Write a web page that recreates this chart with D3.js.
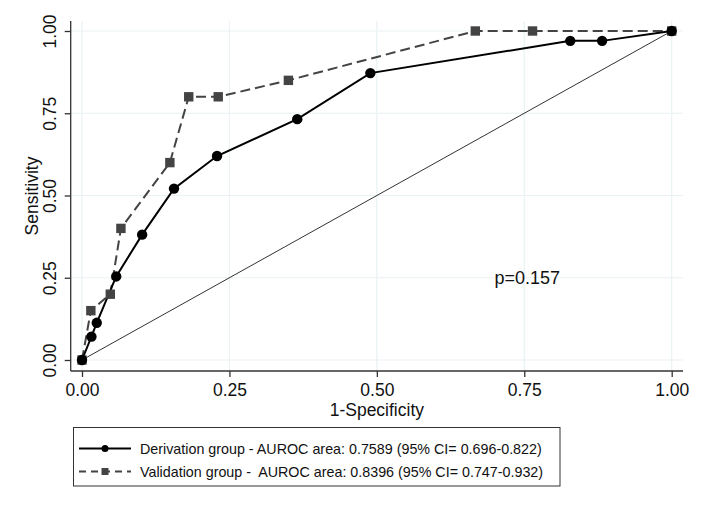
<!DOCTYPE html>
<html><head><meta charset="utf-8">
<script src="https://cdn.jsdelivr.net/npm/d3@7"></script>
<style>body{margin:0;background:#fff}svg{display:block}text{font-family:"Liberation Sans",Arial,sans-serif;fill:#111}</style>
</head><body><svg id="c" width="704" height="513"></svg>
<script>
const derivX = [0, 0.016, 0.025, 0.058, 0.102, 0.156, 0.229, 0.365, 0.489, 0.828, 0.882, 1];
const derivY = [0, 0.071, 0.113, 0.254, 0.381, 0.521, 0.620, 0.732, 0.872, 0.970, 0.970, 1];
const validX = [0, 0.015, 0.048, 0.066, 0.149, 0.181, 0.231, 0.350, 0.667, 0.764, 1];
const validY = [0, 0.15, 0.20, 0.40, 0.60, 0.80, 0.80, 0.85, 1, 1, 1];
const ticks = [0, 0.25, 0.5, 0.75, 1];
const legendLabels = ["Derivation group - AUROC area: 0.7589 (95% CI= 0.696-0.822)",
                      "Validation group -  AUROC area: 0.8396 (95% CI= 0.747-0.932)"];
const pText = "p=0.157";

const svg = d3.select("#c");
const x = d3.scaleLinear().domain([0,1]).range([82, 671.7]);
const y = d3.scaleLinear().domain([0,1]).range([360, 31]);
const L = 70.7, R = 683, T = 21, B = 371;

// gridlines
svg.append("g").selectAll("line.h").data(ticks).join("line")
  .attr("x1", L).attr("x2", R).attr("y1", d=>y(d)).attr("y2", d=>y(d))
  .attr("stroke", "#eaf2f3").attr("stroke-width", 1.2);
svg.append("g").selectAll("line.v").data(ticks).join("line")
  .attr("y1", T).attr("y2", B).attr("x1", d=>x(d)).attr("x2", d=>x(d))
  .attr("stroke", "#eaf2f3").attr("stroke-width", 1.2);

// axes
const fmt = d3.format(".2f");
const xa = svg.append("g").attr("transform", `translate(0,${B})`)
  .call(d3.axisBottom(x).tickValues(ticks).tickFormat(fmt).tickSize(6).tickSizeOuter(0));
xa.select(".domain").attr("d", `M${L},0H${R}`);
xa.selectAll("text").attr("font-size", 17.5).attr("dy", null).attr("y", 24.5).attr("fill", "#111");
const ya = svg.append("g").attr("transform", `translate(${L},0)`)
  .call(d3.axisLeft(y).tickValues(ticks).tickFormat(fmt).tickSize(6).tickSizeOuter(0));
ya.select(".domain").attr("d", `M0,${T}V${B}`);
ya.selectAll("text").attr("font-size", 17.5).attr("fill", "#111")
  .attr("text-anchor", "middle").attr("dy", null).attr("x", null)
  .attr("dominant-baseline", "central")
  .attr("transform", d => `translate(-21,0) rotate(-90)`);
svg.selectAll(".domain, .tick line").attr("stroke", "#333").attr("stroke-width", 1.3);

// axis titles
svg.append("text").attr("x", (x(0)+x(1))/2).attr("y", 416).attr("text-anchor","middle")
  .attr("font-size", 17.5).text("1-Specificity");
svg.append("text").attr("transform", `translate(32,${(T+B)/2}) rotate(-90)`)
  .attr("text-anchor","middle").attr("dominant-baseline","central")
  .attr("font-size", 17.5).text("Sensitivity");

// diagonal
svg.append("line").attr("x1", x(0)).attr("y1", y(0)).attr("x2", x(1)).attr("y2", y(1))
  .attr("stroke", "#333").attr("stroke-width", 1);

const line = d3.line().x(d=>x(d[0])).y(d=>y(d[1]));
const dData = derivX.map((v,i)=>[v, derivY[i]]);
const vData = validX.map((v,i)=>[v, validY[i]]);

svg.append("path").datum(vData).attr("d", line).attr("fill","none")
  .attr("stroke","#444").attr("stroke-width", 2).attr("stroke-dasharray","10,5");
svg.append("path").datum(dData).attr("d", line).attr("fill","none")
  .attr("stroke","#000").attr("stroke-width", 2);

svg.append("g").selectAll("rect").data(vData).join("rect")
  .attr("x", d=>x(d[0])-4.7).attr("y", d=>y(d[1])-4.7).attr("width", 9.4).attr("height", 9.4)
  .attr("fill", "#444");
svg.append("g").selectAll("circle").data(dData).join("circle")
  .attr("cx", d=>x(d[0])).attr("cy", d=>y(d[1])).attr("r", 5.2).attr("fill", "#000");

// p text
svg.append("text").attr("x", x(0.755)).attr("y", y(0.25)).attr("text-anchor","middle")
  .attr("dominant-baseline","central").attr("font-size", 18).text(pText);

// legend
const lg = svg.append("g");
lg.append("rect").attr("x", 73.5).attr("y", 427.5).attr("width", 486.5).attr("height", 58.5)
  .attr("fill","#fff").attr("stroke","#333").attr("stroke-width", 1);
const rows = [
  {y: 448.5, color: "#000", dash: null, shape: "circle"},
  {y: 471.5, color: "#444", dash: "7,5", shape: "square"}
];
rows.forEach((r, i) => {
  lg.append("line").attr("x1", 79).attr("x2", 131).attr("y1", r.y).attr("y2", r.y)
    .attr("stroke", r.color).attr("stroke-width", 2).attr("stroke-dasharray", r.dash);
  if (r.shape === "circle") lg.append("circle").attr("cx", 105).attr("cy", r.y).attr("r", 3.5).attr("fill", r.color);
  else lg.append("rect").attr("x", 101.5).attr("y", r.y-3.5).attr("width", 7).attr("height", 7).attr("fill", r.color);
  lg.append("text").attr("x", 140).attr("y", r.y).attr("dominant-baseline","central")
    .style("white-space", "pre").attr("font-size", 14.3).text(legendLabels[i]);
});
</script></body></html>
